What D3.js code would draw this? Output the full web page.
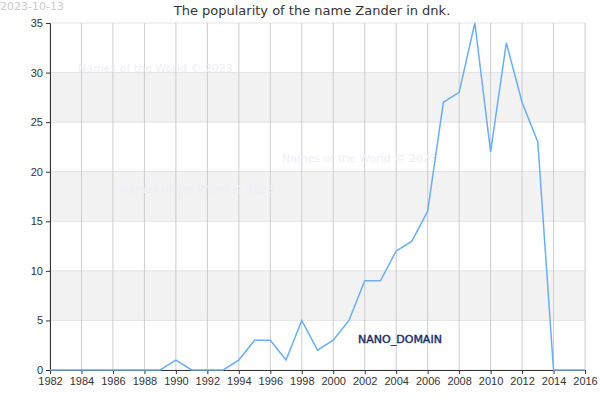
<!DOCTYPE html>
<html><head><meta charset="utf-8">
<script src="https://cdn.jsdelivr.net/npm/d3@7"></script>
<style>body{margin:0;background:#fff}svg{font-family:"DejaVu Sans",sans-serif}</style>
</head><body><svg id="c" width="600" height="400"></svg>
<script>
// data
const years = d3.range(1982, 2017);
const counts = [0,0,0,0,0,0,0,0,1,0,0,0,1,3,3,1,5,2,3,5,9,9,12,13,16,27,28,35,22,33,27,23,0,0,0];
const xTicks = d3.range(1982, 2017, 2);
const yTicks = [0,5,10,15,20,25,30,35];
const bands = [[5,10],[15,20],[25,30]];

const svg = d3.select('#c');
const m = {l: 50, r: 15, t: 23, b: 30};
const W = 600, H = 400;
const x = d3.scaleLinear().domain([1982, 2016]).range([m.l, W - m.r]);
const y = d3.scaleLinear().domain([0, 35]).range([H - m.b, m.t]);

// alternating bands
svg.selectAll('rect.band').data(bands).join('rect')
  .attr('x', m.l).attr('width', W - m.r - m.l)
  .attr('y', d => y(d[1])).attr('height', d => y(d[0]) - y(d[1]))
  .attr('fill', '#f2f2f2');

// horizontal grid
svg.selectAll('line.h').data(yTicks).join('line')
  .attr('x1', m.l).attr('x2', W - m.r)
  .attr('y1', d => y(d)).attr('y2', d => y(d))
  .attr('stroke', '#e4e4e4');
// vertical grid
svg.selectAll('line.v').data(xTicks).join('line')
  .attr('x1', d => x(d)).attr('x2', d => x(d))
  .attr('y1', m.t).attr('y2', H - m.b)
  .attr('stroke', '#cccccc');

// watermarks
const wm = [[78,72,'Names of the World © 2023'],[282,162,'Names of the World © 2023'],[120,193,'Names of the World © 2023']];
svg.selectAll('text.wm').data(wm).join('text')
  .attr('x', d => d[0]).attr('y', d => d[1]).text(d => d[2])
  .attr('font-size', 11).attr('fill', '#eeeef8');

// axes
svg.append('g').attr('transform', `translate(0,${H - m.b})`)
  .call(d3.axisBottom(x).tickValues(xTicks).tickFormat(d3.format('d')).tickSize(4))
  .call(g => g.selectAll('text').attr('font-size', 11).attr('fill', '#333'))
  .call(g => g.selectAll('line,path').attr('stroke', '#333'));
svg.append('g').attr('transform', `translate(${m.l},0)`)
  .call(d3.axisLeft(y).tickValues(yTicks).tickSize(4))
  .call(g => g.selectAll('text').attr('font-size', 11).attr('fill', '#333'))
  .call(g => g.selectAll('line,path').attr('stroke', '#333'));

// line
svg.append('path').datum(years.map((yr, i) => [yr, counts[i]]))
  .attr('fill', 'none').attr('stroke', '#6aaef0').attr('stroke-width', 1.5)
  .attr('d', d3.line().x(d => x(d[0])).y(d => y(d[1])));

// title & date
svg.append('text').attr('x', 312).attr('y', 15).attr('text-anchor', 'middle')
  .attr('font-size', 13).attr('fill', '#333').text('The popularity of the name Zander in dnk.');
svg.append('text').attr('x', 0).attr('y', 10).attr('font-size', 11)
  .attr('fill', '#cccccc').text('2023-10-13');

// nano domain label
svg.append('text').attr('x', 400).attr('y', 343).attr('text-anchor', 'middle')
  .attr('font-size', 11).attr('fill', '#1a2a6c')
  .attr('stroke', '#1a2a6c').attr('stroke-width', 0.4)
  .text('NANO_DOMAIN');
</script></body></html>
